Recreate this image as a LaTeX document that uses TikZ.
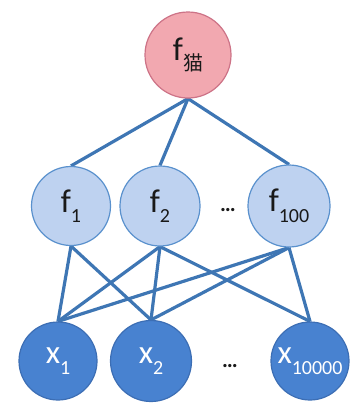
\documentclass[tikz,border=0pt]{standalone}
\usepackage{fontspec}
\setmainfont{Carlito}
\newfontfamily\cjk{Noto Sans CJK SC}
\usetikzlibrary{backgrounds}
\definecolor{pinkfill}{RGB}{242,168,176}
\definecolor{pinkline}{RGB}{205,115,135}
\definecolor{lbfill}{RGB}{190,210,240}
\definecolor{lbline}{RGB}{90,145,205}
\definecolor{dbfill}{RGB}{72,130,208}
\definecolor{dbline}{RGB}{60,110,180}
\definecolor{edgeblue}{RGB}{62,118,180}
\definecolor{txt}{RGB}{25,25,25}
\newcommand{\mysub}[1]{\raisebox{-0.32em}{\fontsize{20}{20}\selectfont #1}}
\begin{document}
\begin{tikzpicture}[x=1pt,y=-1pt,
  neuron/.style={circle,inner sep=0pt,line width=1.2pt,font=\fontsize{33}{33}\selectfont},
  topn/.style={neuron,minimum size=86pt,fill=pinkfill,draw=pinkline,text=txt},
  midn/.style={neuron,minimum size=79pt,fill=lbfill,draw=lbline,text=txt},
  botn/.style={neuron,minimum size=79pt,fill=dbfill,draw=dbline,text=white},
  conn/.style={draw=edgeblue,line width=3.2pt},
  dots/.style={font=\bfseries\fontsize{22}{22}\selectfont,text=txt,inner sep=0pt}]
\useasboundingbox (0,0) rectangle (350,405);
\node[topn] (top) at (188,55) {f\mysub{\cjk 猫}};
\node[midn] (f1) at (71,206) {f\mysub{1}};
\node[midn,minimum size=80pt] (f2) at (160,206) {f\mysub{2}};
\node[midn,minimum size=82pt] (f100) at (289,206) {f\mysub{100}};
\node[botn,minimum size=78pt] (x1) at (58,361) {x\mysub{1}};
\node[botn,minimum size=81pt] (x2) at (151,361) {x\mysub{2}};
\node[botn,minimum size=78pt] (x3) at (310,361) {x\mysub{10000}};
\node[dots] (d1) at (228,210) {…};
\node[dots] (d2) at (230,366) {…};
\begin{pgfonlayer}{background}
\draw[conn] (top.south) -- (f1.north);
\draw[conn] (top.south) -- (f2.north);
\draw[conn] (top.south) -- (f100.north);
\draw[conn] (f1.south) -- (x1.north);
\draw[conn] (f1.south) -- (x2.north);
\draw[conn] (f2.south) -- (x1.north);
\draw[conn] (f2.south) -- (x2.north);
\draw[conn] (f2.south) -- (x3.north);
\draw[conn] (f100.south) -- (x1.north);
\draw[conn] (f100.south) -- (x2.north);
\draw[conn] (f100.south) -- (x3.north);
\end{pgfonlayer}
\end{tikzpicture}
\end{document}
